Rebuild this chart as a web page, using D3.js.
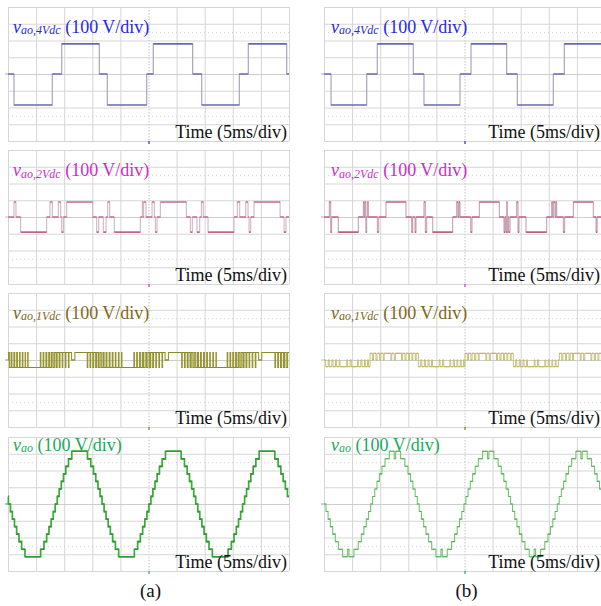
<!DOCTYPE html>
<html>
<head>
<meta charset="utf-8">
<script src="https://cdn.jsdelivr.net/npm/d3@7"></script>
<style>
  body { margin: 0; background: #fff; }
  svg { display: block; font-family: "Liberation Serif", "Times New Roman", serif; }
</style>
</head>
<body>
<svg id="chart" width="601" height="606"></svg>
<script>
// scope screen: 10 div x 5 ms, 8 div x 100 V
const timeTicks = [0, 5, 10, 15, 20, 25, 30, 35, 40, 45, 50];
const voltTicks = [-400, -300, -200, -100, 0, 100, 200, 300, 400];
const dotVolts = [-250, 250];
const columnLabels = ["(a)", "(b)"];
const traceSubs = ["ao,4Vdc", "ao,2Vdc", "ao,1Vdc", "ao"];
const voltLabel = "(100 V/div)";
const timeLabel = "Time (5ms/div)";

// waveforms as [time ms, volts], held until the next point
const v4A = [[0,0],[1.07,-185],[7.88,0],[9.56,180],[16.25,0],[17.67,-185],[24.68,0],[25.85,180],[32.86,0],[34.47,-185],[41.16,0],[42.76,180],[49.59,0],[50,0]];
const v4B = [[0,0],[1.25,-185],[7.6,0],[9.48,180],[15.89,0],[17.79,-185],[24.2,0],[26.16,180],[32.5,0],[34.4,-185],[40.8,0],[42.76,180],[50,180]];

const v2A = [[0,0],[1.07,90],[1.42,0],[2.25,-90],[6.88,0],[7.47,90],[7.89,0],[8.96,90],[9.37,0],[9.55,-90],[9.85,0],[10.44,90],[15.07,0],[15.78,-90],[16.13,0],[16.96,-90],[17.44,0],
  [17.74,90],[18.09,0],[18.92,-90],[23.55,0],[23.9,90],[24.0,0],[24.14,90],[24.56,0],[25.63,90],[26.04,0],[26.22,-90],[26.52,0],[27.11,90],[31.74,0],[32.45,-90],[32.8,0],[33.63,-90],[34.11,0],
  [34.41,90],[34.76,0],[35.59,-90],[40.22,0],[40.81,90],[41.23,0],[42.3,90],[42.71,0],[42.89,-90],[43.19,0],[43.78,90],[48.41,0],[49.12,-90],[49.47,0],[50,0]];
const v2B = [[0,0],[0.95,90],[1.19,-90],[1.36,0],[2.55,-90],[6.11,0],[7.0,90],[7.15,0],[7.3,90],[7.45,-90],[7.59,0],[7.75,90],[7.89,0],[9.49,-90],[9.73,0],[11.03,90],[14.59,0],[15.6,-90],[15.78,0],[16.19,-90],[16.37,0],
  [17.79,90],[18.03,-90],[18.27,0],[19.34,-90],[22.89,0],[23.61,90],[23.84,0],[24.02,90],[24.2,0],[26.1,-90],[26.33,0],[27.64,90],[31.2,0],[32.03,-90],[32.2,0],[32.38,-90],[32.5,90],[32.62,-90],[32.74,0],[32.86,-90],[33.1,0],
  [34.28,90],[34.52,-90],[34.7,0],[35.94,-90],[39.62,0],[40.51,90],[40.66,0],[40.81,90],[41.1,0],[41.25,90],[41.4,0],[42.59,-90],[42.82,0],[44.37,90],[47.92,0],[48.4,-90],[48.6,0],[50,0]];

const v1A = [[0,0],[0.1,45],[0.25,-45],[0.55,45],[0.7,-45],[1.05,45],[1.2,-45],[1.55,45],[1.68,-45],[2.05,45],[2.15,-45],[2.55,45],[2.65,-45],[3.05,45],[3.12,-45],[3.5,45],[3.58,-45],
  [5.75,45],[5.85,-45],[6.25,45],[6.37,-45],[6.75,45],[6.9,-45],[7.25,45],[7.45,-45],[7.75,45],[8.0,-45],[8.25,45],[8.55,-45],[8.75,45],[9.1,-45],[9.25,45],[9.65,-45],[9.75,45],[10.2,-45],[10.3,45],[10.75,-45],[10.85,45],[11.3,0],[11.9,45],
  [14.1,-45],[14.2,45],[14.6,-45],[14.72,45],[15.1,-45],[15.25,45],[15.6,-45],[15.8,45],[16.1,-45],[16.35,45],[16.6,-45],[16.9,45],[17.1,-45],[17.45,45],[17.6,-45],[18.0,45],[18.15,-45],[18.55,45],[18.68,-45],[19.1,45],[19.2,-45],[19.65,45],[19.75,-45],[20.2,45],[20.27,-45],
  [22.4,45],[22.5,-45],[22.9,45],[23.02,-45],[23.4,45],[23.55,-45],[23.9,45],[24.1,-45],[24.4,45],[24.65,-45],[24.9,45],[25.2,-45],[25.4,45],[25.75,-45],[25.9,45],[26.3,-45],[26.4,45],[26.85,-45],[26.95,45],[27.4,-45],[27.5,45],[27.95,0],[28.55,45],
  [30.9,-45],[31.0,45],[31.4,-45],[31.52,45],[31.9,-45],[32.05,45],[32.4,-45],[32.6,45],[32.9,-45],[33.15,45],[33.4,-45],[33.7,45],[33.9,-45],[34.25,45],[34.4,-45],[34.8,45],[34.95,-45],[35.35,45],[35.48,-45],[35.9,45],[36.0,-45],[36.45,45],[36.55,-45],[37.0,45],[37.07,-45],
  [39.0,45],[39.1,-45],[39.5,45],[39.62,-45],[40.0,45],[40.15,-45],[40.5,45],[40.7,-45],[41.0,45],[41.25,-45],[41.5,45],[41.8,-45],[42.0,45],[42.35,-45],[42.5,45],[42.9,-45],[43.0,45],[43.45,-45],[43.55,45],[44.0,-45],[44.1,45],[44.6,0],[45.15,45],
  [47.5,-45],[47.6,45],[48.0,-45],[48.12,45],[48.5,-45],[48.65,45],[49.0,-45],[49.2,45],[49.5,-45],[49.75,45],[50,45]];
const v1B = [[0,0],[0.3,-40],[0.75,0],[0.95,-40],[1.4,0],[1.6,-40],[2.05,0],[2.25,-40],[2.7,0],[2.85,-40],[4.05,0],[4.2,-40],[4.65,0],[4.85,-40],[5.95,0],[6.1,-40],[6.55,0],[6.75,-40],[7.2,0],[7.35,-40],[7.75,0],[7.9,-40],
  [8.19,40],[8.6,0],[8.8,40],[9.25,0],[9.45,40],[9.9,0],[10.1,40],[10.55,0],[10.7,40],[11.9,0],[12.05,40],[12.5,0],[12.7,40],[13.8,0],[13.95,40],[14.4,0],[14.6,40],[15.05,0],[15.2,40],[15.65,0],[15.8,40],[16.25,0],[16.4,40],
  [16.79,-40],[17.2,0],[17.4,-40],[17.85,0],[18.05,-40],[18.5,0],[18.7,-40],[19.15,0],[19.3,-40],[20.5,0],[20.65,-40],[21.1,0],[21.3,-40],[22.4,0],[22.55,-40],[23.0,0],[23.2,-40],[23.65,0],[23.8,-40],[24.25,0],[24.4,-40],[24.8,0],[24.95,-40],
  [25.09,40],[25.5,0],[25.7,40],[26.15,0],[26.35,40],[26.8,0],[27.0,40],[27.45,0],[27.6,40],[28.8,0],[28.95,40],[29.4,0],[29.6,40],[30.7,0],[30.85,40],[31.3,0],[31.5,40],[31.95,0],[32.1,40],[32.55,0],[32.7,40],[33.15,0],[33.3,40],
  [33.69,-40],[34.1,0],[34.3,-40],[34.75,0],[34.95,-40],[35.4,0],[35.6,-40],[36.05,0],[36.2,-40],[37.4,0],[37.55,-40],[38.0,0],[38.2,-40],[39.3,0],[39.45,-40],[39.9,0],[40.1,-40],[40.55,0],[40.7,-40],[41.15,0],[41.3,-40],[41.7,0],
  [41.87,40],[42.3,0],[42.5,40],[42.95,0],[43.15,40],[43.6,0],[43.8,40],[44.25,0],[44.4,40],[45.6,0],[45.75,40],[46.2,0],[46.4,40],[47.5,0],[47.65,40],[48.1,0],[48.3,40],[48.75,0],[48.9,40],[49.35,0],[49.5,40],[50,40]];

const vaoA = [[0,45],[0.07,0],
  [0.43,-45],[0.78,-90],[1.15,-135],[1.54,-180],[1.95,-225],[2.43,-270],[3.02,-315],[5.81,-270],[6.4,-225],[6.88,-180],[7.29,-135],[7.68,-90],[8.05,-45],[8.4,0],
  [8.76,45],[9.11,90],[9.48,135],[9.87,180],[10.28,225],[10.76,270],[11.35,315],[14.14,270],[14.73,225],[15.21,180],[15.62,135],[16.01,90],[16.38,45],[16.73,0],
  [17.1,-45],[17.45,-90],[17.82,-135],[18.21,-180],[18.62,-225],[19.1,-270],[19.69,-315],[22.48,-270],[23.07,-225],[23.55,-180],[23.96,-135],[24.35,-90],[24.72,-45],[25.07,0],
  [25.43,45],[25.78,90],[26.15,135],[26.54,180],[26.95,225],[27.43,270],[28.02,315],[30.81,270],[31.4,225],[31.88,180],[32.29,135],[32.68,90],[33.05,45],[33.4,0],
  [33.77,-45],[34.12,-90],[34.49,-135],[34.88,-180],[35.29,-225],[35.77,-270],[36.36,-315],[39.15,-270],[39.74,-225],[40.22,-180],[40.63,-135],[41.02,-90],[41.39,-45],[41.74,0],
  [42.1,45],[42.45,90],[42.82,135],[43.21,180],[43.62,225],[44.1,270],[44.69,315],[47.48,270],[48.07,225],[48.55,180],[48.96,135],[49.35,90],[49.72,45],[50,45]];
const vaoB = [[0,0],
  [0.35,-45],[0.73,-90],[1.13,-135],[1.55,-180],[2.01,-225],[2.56,-270],[3.32,-315],[4.2,-270],[4.45,-315],[5.33,-270],[6.09,-225],[6.64,-180],[7.1,-135],[7.52,-90],[7.92,-45],[8.3,0],
  [8.65,45],[9.03,90],[9.43,135],[9.85,180],[10.31,225],[10.86,270],[11.62,315],[12.5,270],[12.75,315],[13.63,270],[14.39,225],[14.94,180],[15.4,135],[15.82,90],[16.22,45],[16.6,0],
  [16.95,-45],[17.33,-90],[17.73,-135],[18.15,-180],[18.61,-225],[19.16,-270],[19.92,-315],[20.8,-270],[21.05,-315],[21.93,-270],[22.69,-225],[23.24,-180],[23.7,-135],[24.12,-90],[24.52,-45],[24.9,0],
  [25.25,45],[25.63,90],[26.03,135],[26.45,180],[26.91,225],[27.46,270],[28.22,315],[29.1,270],[29.35,315],[30.23,270],[30.99,225],[31.54,180],[32.0,135],[32.42,90],[32.82,45],[33.2,0],
  [33.55,-45],[33.93,-90],[34.33,-135],[34.75,-180],[35.21,-225],[35.76,-270],[36.52,-315],[37.4,-270],[37.65,-315],[38.53,-270],[39.29,-225],[39.84,-180],[40.3,-135],[40.72,-90],[41.12,-45],[41.5,0],
  [41.85,45],[42.23,90],[42.63,135],[43.05,180],[43.51,225],[44.06,270],[44.82,315],[45.7,270],[45.95,315],[46.83,270],[47.59,225],[48.14,180],[48.6,135],[49.02,90],[49.42,45],[49.8,0],[50,0]];

const W = 601;
const svg = d3.select("#chart");
const colX = [8, 324], rowY = [7, 150, 293, 437];
const pw = 281, ph = 134;

const x = d3.scaleLinear().domain([timeTicks[0], timeTicks[timeTicks.length - 1]]).range([0, pw]);
const y = d3.scaleLinear().domain([voltTicks[0], voltTicks[voltTicks.length - 1]]).range([ph, 0]);

// one entry per row of scopes
const rows = [
  { sub: traceSubs[0], color: "#2b2bd6", flat: ["#4a4aa8", "#4a4aa8"], edge: ["#a8a8b6", "#a8a8b6"], sw: [1.2, 1.2], data: [v4A, v4B], titleDy: 25.5 },
  { sub: traceSubs[1], color: "#cc2ecc", flat: ["#b8447a", "#b0446e"], edge: ["#d2b6c4", "#c8a2b4"], sw: [1.1, 1.1], data: [v2A, v2B], titleDy: 26 },
  { sub: traceSubs[2], color: "#806a18", flat: ["#8c8a26", "#bcb566"], edge: ["#979532", "#c6c07a"], sw: [1.1, 1], data: [v1A, v1B], titleDy: 25.5 },
  { sub: traceSubs[3], color: "#1ea85e", flat: ["#2f9a2f", "#56b456"], edge: ["#3da83d", "#74c474"], sw: [1.7, 1.1], data: [vaoA, vaoB], titleDy: 13.5 }
];

const stepLine = d3.line()
  .x(d => x(d[0]))
  .y(d => y(d[1]))
  .curve(d3.curveStepAfter);

// horizontal pieces only, drawn over the step line in a darker colour
function flatPath(data) {
  let p = "";
  for (let i = 0; i < data.length - 1; i++) {
    p += "M" + x(data[i][0]) + "," + y(data[i][1]) + "H" + x(data[i + 1][0]);
  }
  return p;
}

rows.forEach((row, r) => {
  colX.forEach((cx, c) => {
    const g = svg.append("g").attr("transform", "translate(" + cx + "," + rowY[r] + ")");
    const clipId = "clip" + r + c;
    g.append("clipPath").attr("id", clipId)
      .append("rect").attr("x", -3).attr("y", -2).attr("width", pw + 3).attr("height", ph + 4);

    // grid
    const gx = g.append("g")
      .call(d3.axisBottom(x).tickValues(timeTicks).tickSize(ph).tickSizeOuter(0).tickFormat(""));
    gx.select(".domain").remove();
    gx.selectAll(".tick line")
      .attr("stroke-dasharray", d => d === 25 ? "1.5,1.5" : null)
      .attr("stroke", d => d === 25 ? "#c4c4c4" : "#d6d6d6");

    const gy = g.append("g")
      .call(d3.axisLeft(y).tickValues(voltTicks).tickSize(-pw).tickSizeOuter(0).tickFormat(""));
    gy.select(".domain").remove();
    gy.selectAll(".tick line").attr("stroke", d => d === 0 ? "#cdcdcd" : "#d6d6d6");

    const gd = g.append("g")
      .call(d3.axisLeft(y).tickValues(dotVolts).tickSize(-pw).tickSizeOuter(0).tickFormat(""));
    gd.select(".domain").remove();
    gd.selectAll(".tick line").attr("stroke", "#d2d2d2").attr("stroke-dasharray", "1,3");

    // trigger mark under centre
    g.append("line")
      .attr("x1", x(25) + 0.5).attr("x2", x(25) + 0.5)
      .attr("y1", ph).attr("y2", ph + 3)
      .attr("stroke", row.color).attr("stroke-width", 1.2);

    // trace
    const tr = g.append("g").attr("clip-path", "url(#" + clipId + ")");
    tr.append("line")
      .attr("x1", -3).attr("x2", 0)
      .attr("y1", y(0)).attr("y2", y(0))
      .attr("stroke", row.edge[c]).attr("stroke-width", 1);
    tr.append("path")
      .attr("d", stepLine(row.data[c]))
      .attr("fill", "none")
      .attr("stroke", row.edge[c])
      .attr("stroke-width", row.sw[c]);
    tr.append("path")
      .attr("d", flatPath(row.data[c]))
      .attr("fill", "none")
      .attr("stroke", row.flat[c])
      .attr("stroke-width", row.sw[c]);

    // title
    const t = g.append("text")
      .attr("x", c === 0 ? 5 : 7)
      .attr("y", row.titleDy)
      .attr("fill", row.color)
      .attr("font-size", 18);
    t.append("tspan").attr("font-style", "italic").text("v");
    t.append("tspan").attr("font-style", "italic").attr("font-size", 12).attr("dy", 1.5).text(row.sub);
    t.append("tspan").attr("dy", -1.5).text(" " + voltLabel);

    // keep the right column label inside the page
    g.append("text")
      .attr("x", Math.min(pw - 2, W - cx - 1))
      .attr("y", ph - 3)
      .attr("text-anchor", "end")
      .attr("font-size", 18)
      .attr("fill", "#111")
      .text(timeLabel);
  });
});

svg.selectAll(".colLabel")
  .data(columnLabels)
  .enter().append("text")
  .attr("class", "colLabel")
  .attr("x", (d, i) => colX[i] + pw / 2 + 2)
  .attr("y", 597)
  .attr("text-anchor", "middle")
  .attr("font-size", 19)
  .attr("fill", "#111")
  .text(d => d);
</script>
</body>
</html>
